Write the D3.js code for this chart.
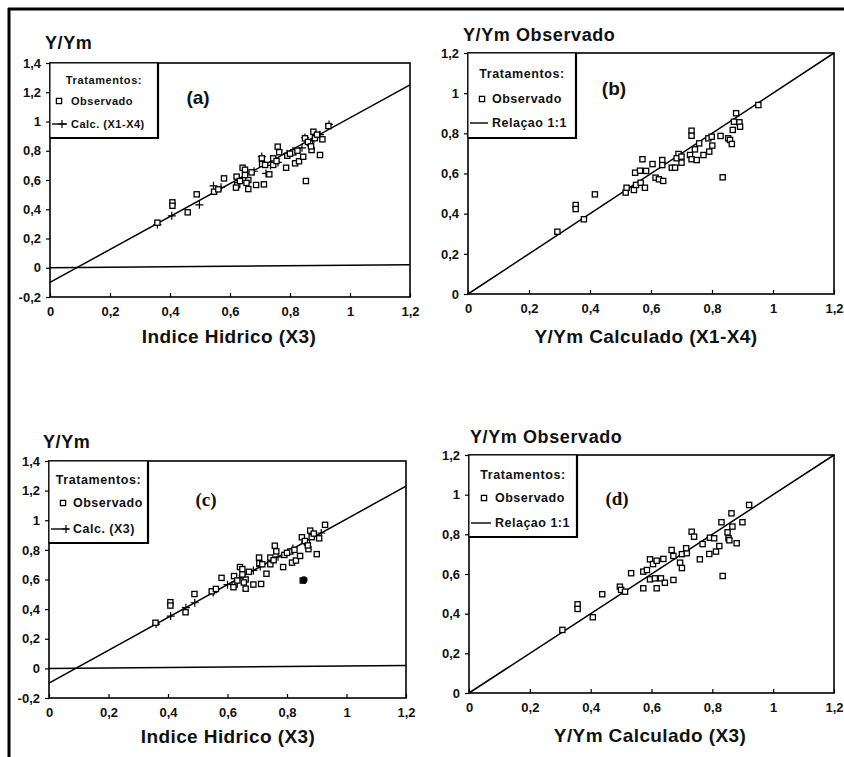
<!DOCTYPE html>
<html>
<head>
<meta charset="utf-8">
<script src="https://cdn.jsdelivr.net/npm/d3@7"></script>
<style>
body { margin: 0; background: #fff; }
text { font-family: "Liberation Sans", Arial, sans-serif; font-weight: bold; fill: #111; }
</style>
</head>
<body>
<svg width="844" height="757"></svg>
<script>
// tick values
var xTicks = [0, 0.2, 0.4, 0.6, 0.8, 1, 1.2];
var yTicksAC = [-0.2, 0, 0.2, 0.4, 0.6, 0.8, 1, 1.2, 1.4];
var yTicksBD = [0, 0.2, 0.4, 0.6, 0.8, 1, 1.2];

// (a) and (c): observado vs indice hidrico X3
var aX3 = [0.358,0.408,0.408,0.459,0.489,0.547,0.561,0.580,0.622,0.624,0.633,0.642,0.650,0.661,0.661,0.672,0.687,0.713,0.706,0.707,
           0.731,0.744,0.744,0.759,0.764,0.787,0.791,0.811,0.817,0.830,0.844,0.853,0.850,0.867,0.872,0.878,0.883,0.900,0.908,0.928,
           0.620,0.650,0.655,0.717,0.755,0.800,0.825,0.860,0.890,0.870];
var aObs = [0.308,0.447,0.424,0.379,0.502,0.520,0.536,0.611,0.623,0.566,0.593,0.684,0.670,0.600,0.538,0.652,0.566,0.570,0.748,0.710,
            0.639,0.703,0.748,0.828,0.790,0.684,0.766,0.789,0.714,0.728,0.759,0.593,0.885,0.851,0.805,0.930,0.886,0.771,0.878,0.969,
            0.548,0.634,0.580,0.703,0.730,0.780,0.800,0.860,0.910,0.830];

// (a) calc X1-X4 plotted against X3
var aCalcX = [0.358,0.406,0.498,0.545,0.570,0.630,0.680,0.706,0.720,0.735,0.760,0.790,0.810,0.840,0.850,0.870,0.900,0.930];
var aCalcY = [0.295,0.355,0.430,0.560,0.550,0.610,0.660,0.760,0.645,0.700,0.720,0.780,0.800,0.820,0.890,0.860,0.910,0.980];

// (c) calc X3 against X3
var cCalcX = [0.360,0.409,0.460,0.490,0.552,0.600,0.640,0.687,0.710,0.750,0.770,0.820,0.860,0.915];
var cCalcY = [0.299,0.353,0.410,0.443,0.512,0.565,0.609,0.661,0.687,0.731,0.753,0.809,0.853,0.914];
var cDotX = [0.857];
var cDotY = [0.597];

// fitted lines and zero line
var fitX = [0, 1.2];
var aFitY = [-0.1, 1.25];
var cFitY = [-0.1, 1.23];
var zeroY = [0, 0.02];
var oneToOne = [0, 1.2];

// (b) observado vs calculado X1-X4
var bCalc = [0.293,0.353,0.353,0.380,0.416,0.517,0.520,0.544,0.551,0.566,0.580,0.548,0.564,0.584,0.572,0.605,0.637,0.637,0.615,0.626,
             0.640,0.668,0.679,0.690,0.700,0.684,0.700,0.733,0.733,0.728,0.733,0.750,0.744,0.758,0.772,0.791,0.801,0.788,0.799,0.828,
             0.835,0.853,0.859,0.865,0.868,0.879,0.872,0.890,0.892,0.952];
var bObs = [0.310,0.443,0.423,0.372,0.496,0.505,0.529,0.518,0.543,0.554,0.529,0.604,0.614,0.613,0.671,0.647,0.667,0.642,0.579,0.571,
            0.563,0.629,0.629,0.697,0.654,0.676,0.684,0.813,0.788,0.692,0.671,0.667,0.720,0.750,0.692,0.709,0.739,0.775,0.783,0.787,
            0.581,0.775,0.767,0.747,0.817,0.900,0.858,0.855,0.833,0.941];

// (d) observado vs calculado X3
var dCalc = [0.307,0.357,0.357,0.407,0.438,0.496,0.500,0.513,0.533,0.573,0.585,0.573,0.595,0.611,0.631,0.644,0.617,0.672,0.595,0.605,
             0.617,0.639,0.666,0.672,0.694,0.700,0.700,0.716,0.714,0.732,0.740,0.759,0.768,0.790,0.792,0.806,0.812,0.823,0.834,0.830,
             0.863,0.866,0.850,0.853,0.856,0.880,0.899,0.921];
var dObs = [0.318,0.447,0.424,0.382,0.498,0.536,0.520,0.511,0.604,0.612,0.620,0.528,0.573,0.578,0.578,0.556,0.528,0.570,0.674,0.650,
            0.667,0.676,0.721,0.691,0.657,0.630,0.700,0.705,0.730,0.813,0.788,0.674,0.751,0.701,0.783,0.780,0.713,0.741,0.590,0.861,
            0.906,0.839,0.810,0.780,0.770,0.755,0.861,0.948];

var svg = d3.select('svg');

// outer frame (top and left only, as scanned)
svg.append('line').attr('x1', 8).attr('y1', 9).attr('x2', 844).attr('y2', 9).attr('stroke', '#000').attr('stroke-width', 3);
svg.append('line').attr('x1', 9).attr('y1', 8).attr('x2', 9).attr('y2', 757).attr('stroke', '#000').attr('stroke-width', 3);

function fmt(d) { return String(+d.toFixed(1)).replace('.', ','); }

function square(g, px, py) {
	g.append('rect').attr('x', px - 2.6).attr('y', py - 2.6).attr('width', 5.2).attr('height', 5.2)
		.attr('fill', '#fff').attr('stroke', '#000').attr('stroke-width', 1.3);
}
function plus(g, px, py, s) {
	s = s || 4;
	g.append('path').attr('d', 'M' + (px - s) + ',' + py + 'H' + (px + s) + 'M' + px + ',' + (py - s) + 'V' + (py + s))
		.attr('stroke', '#000').attr('stroke-width', 1.2);
}

function drawPanel(p) {
	var g = svg.append('g');
	var x = d3.scaleLinear().domain([0, 1.2]).range([p.left, p.right]);
	var y = d3.scaleLinear().domain(p.yDomain).range([p.bottom, p.top]);

	var xa = g.append('g').attr('transform', 'translate(0,' + p.bottom + ')')
		.call(d3.axisBottom(x).tickValues(xTicks).tickSize(-4).tickPadding(10).tickFormat(fmt));
	var ya = g.append('g').attr('transform', 'translate(' + p.left + ',0)')
		.call(d3.axisLeft(y).tickValues(p.yTicks).tickSize(4).tickPadding(5).tickFormat(fmt));
	[xa, ya].forEach(function(a) {
		a.select('.domain').remove();
		a.selectAll('line').attr('stroke', '#000').attr('stroke-width', 1.2);
		a.selectAll('text').style('font-size', '13px').style('font-weight', 'bold')
			.style('font-family', '"Liberation Sans", Arial, sans-serif').attr('fill', '#111');
	});

	g.append('rect').attr('x', p.left).attr('y', p.top).attr('width', p.right - p.left).attr('height', p.bottom - p.top)
		.attr('fill', 'none').attr('stroke', '#000').attr('stroke-width', 1.6);

	var line = d3.line().x(function(d) { return x(d[0]); }).y(function(d) { return y(d[1]); });
	p.lines.forEach(function(l) {
		g.append('path').datum(d3.zip(l[0], l[1])).attr('d', line)
			.attr('fill', 'none').attr('stroke', '#000').attr('stroke-width', 1.5);
	});

	if (p.plus) d3.zip(p.plus[0], p.plus[1]).forEach(function(d) { plus(g, x(d[0]), y(d[1])); });
	d3.zip(p.obs[0], p.obs[1]).forEach(function(d) { square(g, x(d[0]), y(d[1])); });
	if (p.dots) d3.zip(p.dots[0], p.dots[1]).forEach(function(d) {
		g.append('circle').attr('cx', x(d[0])).attr('cy', y(d[1])).attr('r', 3.6).attr('fill', '#000');
	});

	// titles
	g.append('text').attr('x', p.yTitle[1]).attr('y', p.yTitle[2]).style('font-size', '18px')
		.attr('letter-spacing', 0.6).text(p.yTitle[0]);
	g.append('text').attr('x', p.xTitle[1]).attr('y', p.xTitle[2]).attr('text-anchor', 'middle')
		.style('font-size', '19px').attr('letter-spacing', 0.4).text(p.xTitle[0]);
	g.append('text').attr('x', p.tag[1]).attr('y', p.tag[2]).attr('text-anchor', 'middle')
		.style('font-size', '19px')
		.style('font-family', p.tag[3] ? '"Liberation Serif", "Times New Roman", serif' : null)
		.text(p.tag[0]);

	// legend
	var L = p.legend;
	var lg = g.append('g');
	lg.append('rect').attr('x', p.left).attr('y', p.top).attr('width', L.w).attr('height', L.h)
		.attr('fill', '#fff').attr('stroke', '#000').attr('stroke-width', 1);
	lg.append('path').attr('d', 'M' + (p.left + L.w) + ',' + p.top + 'V' + (p.top + L.h) + 'H' + p.left)
		.attr('fill', 'none').attr('stroke', '#000').attr('stroke-width', 2.2);
	lg.append('text').attr('x', p.left + L.w / 2).attr('y', p.top + L.rows[0]).attr('text-anchor', 'middle')
		.style('font-size', L.fs + 'px').attr('letter-spacing', 0.6).text('Tratamentos:');
	square(lg, p.left + L.sym, p.top + L.rows[1] - 4);
	lg.append('text').attr('x', p.left + L.tx).attr('y', p.top + L.rows[1])
		.style('font-size', L.fs + 'px').attr('letter-spacing', 0.5).text('Observado');
	var ly = p.top + L.rows[2] - 4;
	lg.append('line').attr('x1', p.left + 2).attr('x2', p.left + L.tx - 4).attr('y1', ly).attr('y2', ly)
		.attr('stroke', '#000').attr('stroke-width', 1.4);
	if (L.plus) plus(lg, p.left + L.sym + 3, ly, 4);
	lg.append('text').attr('x', p.left + L.tx).attr('y', p.top + L.rows[2])
		.style('font-size', L.fs + 'px').attr('letter-spacing', 0.5).text(L.second);
}

drawPanel({
	left: 50, right: 410, top: 63, bottom: 297,
	yDomain: [-0.2, 1.4], yTicks: yTicksAC,
	obs: [aX3, aObs], plus: [aCalcX, aCalcY],
	lines: [[fitX, aFitY], [fitX, zeroY]],
	yTitle: ['Y/Ym', 45, 49], xTitle: ['Indice Hidrico (X3)', 229, 343], tag: ['(a)', 198, 104, false],
	legend: { w: 108, h: 75, rows: [21, 42, 65], fs: 11, sym: 9, tx: 21, plus: true, second: 'Calc. (X1-X4)' }
});

drawPanel({
	left: 468, right: 834, top: 53, bottom: 294,
	yDomain: [0, 1.2], yTicks: yTicksBD,
	obs: [bCalc, bObs],
	lines: [[oneToOne, oneToOne]],
	yTitle: ['Y/Ym Observado', 463, 41], xTitle: ['Y/Ym Calculado (X1-X4)', 646, 343], tag: ['(b)', 614, 95, false],
	legend: { w: 108, h: 85, rows: [25, 50, 74], fs: 12.5, sym: 14, tx: 24, plus: false, second: 'Relaçao 1:1' }
});

drawPanel({
	left: 49, right: 406, top: 461, bottom: 698,
	yDomain: [-0.2, 1.4], yTicks: yTicksAC,
	obs: [aX3, aObs], plus: [cCalcX, cCalcY], dots: [cDotX, cDotY],
	lines: [[fitX, cFitY], [fitX, zeroY]],
	yTitle: ['Y/Ym', 43, 448], xTitle: ['Indice Hidrico (X3)', 228, 743], tag: ['(c)', 206, 506, true],
	legend: { w: 99, h: 82, rows: [23, 46, 72], fs: 12.5, sym: 14, tx: 24, plus: true, second: 'Calc. (X3)' }
});

drawPanel({
	left: 469, right: 834, top: 455, bottom: 693,
	yDomain: [0, 1.2], yTicks: yTicksBD,
	obs: [dCalc, dObs],
	lines: [[oneToOne, oneToOne]],
	yTitle: ['Y/Ym Observado', 470, 443], xTitle: ['Y/Ym Calculado (X3)', 650, 742], tag: ['(d)', 617, 505, true],
	legend: { w: 108, h: 82, rows: [24, 47, 72], fs: 12.5, sym: 15, tx: 26, plus: false, second: 'Relaçao 1:1' }
});
</script>
</body>
</html>
